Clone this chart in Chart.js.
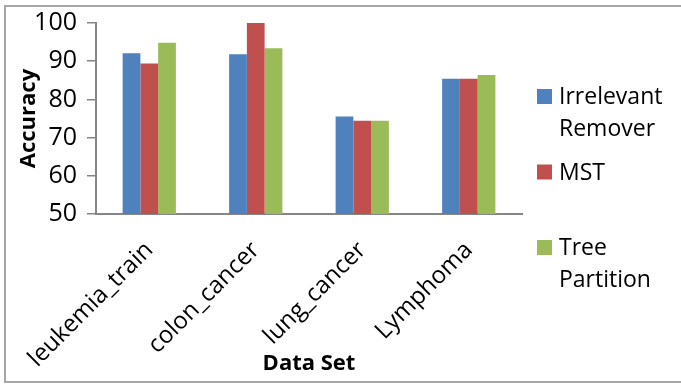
<!DOCTYPE html>
<html>
<head>
<meta charset="utf-8">
<script src="https://cdn.jsdelivr.net/npm/chart.js@4.4.1/dist/chart.umd.min.js"></script>
<style>
  html, body { margin: 0; padding: 0; background: #fff; }
  #wrap { position: relative; width: 681px; height: 384px; overflow: hidden; }
  #frame { position: absolute; left: 4px; top: 5px; width: 700px; height: 374px; border: 2px solid #a6a6a6; }
  #c { position: absolute; left: 0; top: 0; }
</style>
</head>
<body>
<div id="wrap">
  <div id="frame"></div>
  <canvas id="c" width="681" height="384"></canvas>
</div>
<script>
// data
const categories = ['leukemia_train', 'colon_cancer', 'lung_cancer', 'Lymphoma'];
const irrelevantRemover = [92.1, 91.8, 75.5, 85.4];
const mst = [89.4, 100, 74.4, 85.4];
const treePartition = [94.8, 93.4, 74.4, 86.4];
const seriesNames = [['Irrelevant', 'Remover'], ['MST'], ['Tree', 'Partition']];
const seriesColors = ['#4f81bd', '#c0504d', '#9bbb59'];
const yTicks = [50, 60, 70, 80, 90, 100];

const FONT = "'Open Sans', 'Liberation Sans', sans-serif";
const AXIS = '#868686';

// legend drawn by hand so the two-line names wrap like the original
const sideLegend = {
    id: 'sideLegend',
    afterDraw(chart) {
        const ctx = chart.ctx;
        ctx.save();
        ctx.font = '23px ' + FONT;
        ctx.textBaseline = 'alphabetic';
        let top = 89;
        chart.data.datasets.forEach((ds, i) => {
            ctx.fillStyle = ds.backgroundColor;
            ctx.fillRect(537, top, 15, 15);
            ctx.fillStyle = '#000';
            const lines = seriesNames[i];
            lines.forEach((txt, k) => ctx.fillText(txt, 559, top + 15 + k * 32));
            top += 75.5;
        });
        ctx.restore();
    }
};

const sets = [irrelevantRemover, mst, treePartition];

new Chart(document.getElementById('c'), {
    type: 'bar',
    data: {
        labels: categories,
        datasets: sets.map((vals, i) => ({
            label: seriesNames[i].join(' '),
            data: vals,
            backgroundColor: seriesColors[i],
            borderWidth: 0,
            barPercentage: 1,
            categoryPercentage: 0.5
        }))
    },
    options: {
        responsive: false,
        animation: false,
        layout: { padding: { left: 0, right: 159, top: 23, bottom: 0 } },
        plugins: {
            legend: { display: false },
            tooltip: { enabled: false }
        },
        scales: {
            x: {
                grid: { display: false },
                border: { display: true, color: AXIS, width: 2 },
                ticks: {
                    color: '#000',
                    font: { family: FONT, size: 24 },
                    minRotation: 45,
                    maxRotation: 45,
                    padding: 14
                },
                title: {
                    display: true,
                    text: 'Data Set',
                    color: '#000',
                    font: { family: FONT, size: 22, weight: 'bold' },
                    padding: { top: 0, bottom: 7 }
                },
                afterFit(scale) { scale.height = 170; }
            },
            y: {
                min: 50,
                max: 100,
                grid: { display: true, drawOnChartArea: false, drawTicks: true, tickLength: 9, color: AXIS, lineWidth: 1.5 },
                border: { display: true, color: AXIS, width: 2 },
                afterBuildTicks(scale) { scale.ticks = yTicks.map(v => ({ value: v })); },
                ticks: {
                    color: '#000',
                    font: { family: FONT, size: 25, lineHeight: 1 },
                    padding: 10
                },
                title: {
                    display: true,
                    text: 'Accuracy',
                    color: '#000',
                    font: { family: FONT, size: 22, weight: 'bold' },
                    padding: { top: 16, bottom: 0 }
                },
                afterFit(scale) { scale.width = 96; }
            }
        }
    },
    plugins: [sideLegend]
});
</script>
</body>
</html>
